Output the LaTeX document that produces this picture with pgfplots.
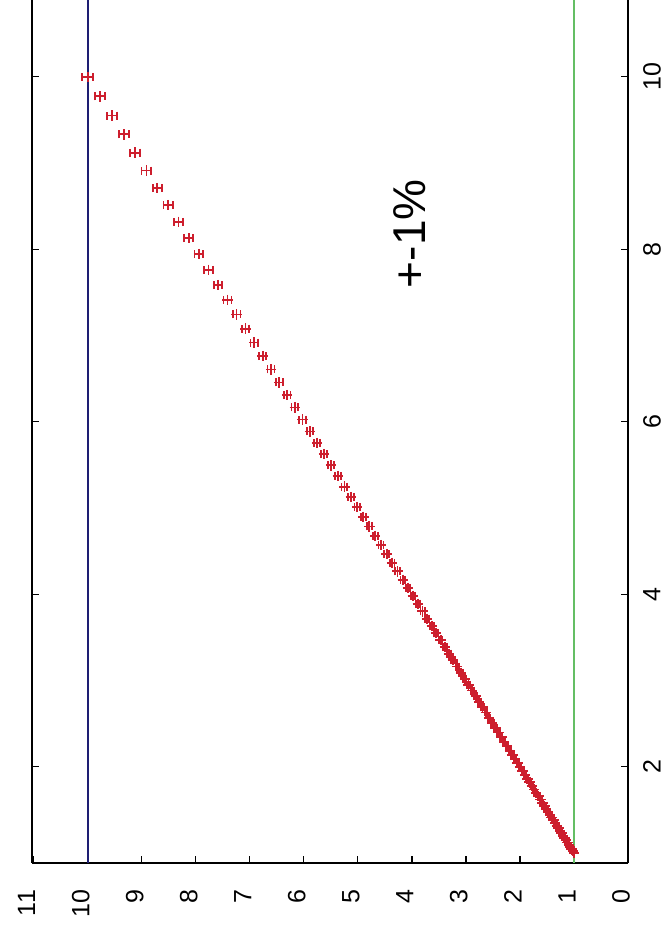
\documentclass[border=0pt]{standalone}
\usepackage{pgfplots}
\pgfplotsset{compat=1.18}
\usepackage{fontspec}
\setmainfont{Liberation Sans}
\definecolor{mkred}{RGB}{205,30,45}
\definecolor{navy}{RGB}{30,30,115}
\definecolor{lgreen}{RGB}{100,190,100}
\begin{document}
\begin{tikzpicture}
\begin{axis}[
  scale only axis,
  width=298pt, height=431.5pt,
  x dir=reverse,
  xmin=0, xmax=11.03, ymin=0.885, ymax=10.89,
  axis x line=bottom, axis y line=box,
  axis line style={-, black, line width=0.65pt},
  xtick={0,1,...,11}, ytick={2,4,6,8,10},
  ytick pos=both, yticklabel pos=right,
  tick align=inside, major tick length=3.5pt,
  tick style={black, line width=0.65pt},
  /pgf/number format/assume math mode=true,
  ticklabel style={font=\fontsize{12.5}{14}\selectfont},
  xticklabel style={xshift=-3.5pt, rotate=90, anchor=east},
  yticklabel style={rotate=90, anchor=north},
  xticklabel shift=10pt, yticklabel shift=4pt,
  clip=true,
]
\addplot[navy, line width=1pt] coordinates {(10,0.885) (10,10.89)};
\addplot[lgreen, line width=0.75pt] coordinates {(1,0.885) (1,10.89)};
\addplot[mkred, only marks, mark=+, mark size=2.6pt, mark options={line width=0.9pt},
  error bars/.cd, x dir=both, x fixed relative=0.01,
  error mark=|,
  error bar style={mkred, line width=0.9pt},
  error mark options={mkred, mark size=2pt, line width=0.9pt}]
 coordinates {
(1.0000,1.0000) (1.0233,1.0233) (1.0471,1.0471) (1.0715,1.0715) (1.0965,1.0965)
(1.1220,1.1220) (1.1482,1.1482) (1.1749,1.1749) (1.2023,1.2023) (1.2303,1.2303)
(1.2589,1.2589) (1.2882,1.2882) (1.3183,1.3183) (1.3490,1.3490) (1.3804,1.3804)
(1.4125,1.4125) (1.4454,1.4454) (1.4791,1.4791) (1.5136,1.5136) (1.5488,1.5488)
(1.5849,1.5849) (1.6218,1.6218) (1.6596,1.6596) (1.6982,1.6982) (1.7378,1.7378)
(1.7783,1.7783) (1.8197,1.8197) (1.8621,1.8621) (1.9055,1.9055) (1.9498,1.9498)
(1.9953,1.9953) (2.0417,2.0417) (2.0893,2.0893) (2.1380,2.1380) (2.1878,2.1878)
(2.2387,2.2387) (2.2909,2.2909) (2.3442,2.3442) (2.3988,2.3988) (2.4547,2.4547)
(2.5119,2.5119) (2.5704,2.5704) (2.6303,2.6303) (2.6915,2.6915) (2.7542,2.7542)
(2.8184,2.8184) (2.8840,2.8840) (2.9512,2.9512) (3.0200,3.0200) (3.0903,3.0903)
(3.1623,3.1623) (3.2359,3.2359) (3.3113,3.3113) (3.3884,3.3884) (3.4674,3.4674)
(3.5481,3.5481) (3.6308,3.6308) (3.7154,3.7154) (3.8019,3.8019) (3.8905,3.8905)
(3.9811,3.9811) (4.0738,4.0738) (4.1687,4.1687) (4.2658,4.2658) (4.3652,4.3652)
(4.4668,4.4668) (4.5709,4.5709) (4.6774,4.6774) (4.7863,4.7863) (4.8978,4.8978)
(5.0119,5.0119) (5.1286,5.1286) (5.2481,5.2481) (5.3703,5.3703) (5.4954,5.4954)
(5.6234,5.6234) (5.7544,5.7544) (5.8884,5.8884) (6.0256,6.0256) (6.1660,6.1660)
(6.3096,6.3096) (6.4565,6.4565) (6.6069,6.6069) (6.7608,6.7608) (6.9183,6.9183)
(7.0795,7.0795) (7.2444,7.2444) (7.4131,7.4131) (7.5858,7.5858) (7.7625,7.7625)
(7.9433,7.9433) (8.1283,8.1283) (8.3176,8.3176) (8.5114,8.5114) (8.7096,8.7096)
(8.9125,8.9125) (9.1201,9.1201) (9.3325,9.3325) (9.5499,9.5499) (9.7724,9.7724)
(10.0000,10.0000)
};
\node[rotate=90, font=\fontsize{23}{26}\selectfont] at (axis cs:4.04,8.18) {+-1\%};
\coordinate (bl) at (axis cs:11.03,0.885);
\coordinate (tr) at (axis cs:0,10.89);
\end{axis}
\pgfresetboundingbox
\path ([shift={(-16pt,-34pt)}]bl) rectangle ([shift={(20pt,0pt)}]tr);
\end{tikzpicture}
\end{document}
